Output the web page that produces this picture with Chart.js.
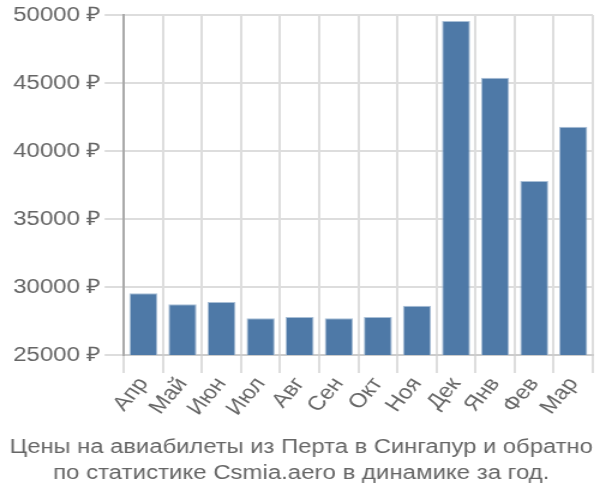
<!DOCTYPE html>
<html>
<head>
<meta charset="utf-8">
<script src="https://cdn.jsdelivr.net/npm/chart.js@4/dist/chart.umd.min.js"></script>
<style>
  html, body { margin: 0; padding: 0; background: #fff; overflow: hidden; }
  /* the reference is drawn 500 wide and stretched to 600 */
  #wrap { width: 500px; height: 500px; transform: scaleX(1.2); transform-origin: 0 0; }
</style>
</head>
<body>
<div id="wrap"><canvas id="chart" width="500" height="500"></canvas></div>
<script>
// Months (Apr..Mar) and average price in rubles
var months = ['Апр', 'Май', 'Июн', 'Июл', 'Авг', 'Сен', 'Окт', 'Ноя', 'Дек', 'Янв', 'Фев', 'Мар'];
var prices = [29550, 28730, 28900, 27700, 27800, 27700, 27800, 28630, 49550, 45380, 37790, 41790];
var yTicks = [25000, 30000, 35000, 40000, 45000, 50000];
var titleLines = [
    'Цены на авиабилеты из Перта в Сингапур и обратно',
    'по статистике Csmia.aero в динамике за год.'
];

var fontFamily = '"Liberation Sans", Arial, sans-serif';

new Chart(document.getElementById('chart'), {
    type: 'bar',
    data: {
        labels: months,
        datasets: [{
            data: prices,
            backgroundColor: '#4e79a7',
            borderColor: '#a9bfd6',
            borderWidth: 1,
            barPercentage: 0.72,
            categoryPercentage: 1
        }]
    },
    options: {
        responsive: false,
        animation: false,
        layout: { padding: { top: 4, right: 6, left: 8, bottom: 0 } },
        plugins: {
            legend: { display: false },
            tooltip: { enabled: false },
            title: {
                display: true,
                position: 'bottom',
                text: titleLines,
                color: '#666',
                font: { family: fontFamily, size: 20, weight: 'normal', lineHeight: 1.3 },
                padding: { top: 14, bottom: 14 }
            }
        },
        scales: {
            x: {
                grid: { color: '#ddd', lineWidth: 2, tickLength: 18, offset: true },
                border: { color: '#ccc', width: 2 },
                ticks: {
                    color: '#666',
                    font: { family: fontFamily, size: 20 },
                    autoSkip: false,
                    minRotation: 54,
                    maxRotation: 54,
                    padding: 0
                }
            },
            y: {
                min: 25000,
                max: 50000,
                afterBuildTicks: function (axis) {
                    axis.ticks = yTicks.map(function (v) { return { value: v }; });
                },
                grid: { color: '#ddd', lineWidth: 2, tickLength: 16 },
                border: { color: '#aaa', width: 2 },
                ticks: {
                    color: '#666',
                    font: { family: fontFamily, size: 20 },
                    padding: 3,
                    callback: function (v) { return v + ' ₽'; }
                }
            }
        }
    }
});
</script>
</body>
</html>
